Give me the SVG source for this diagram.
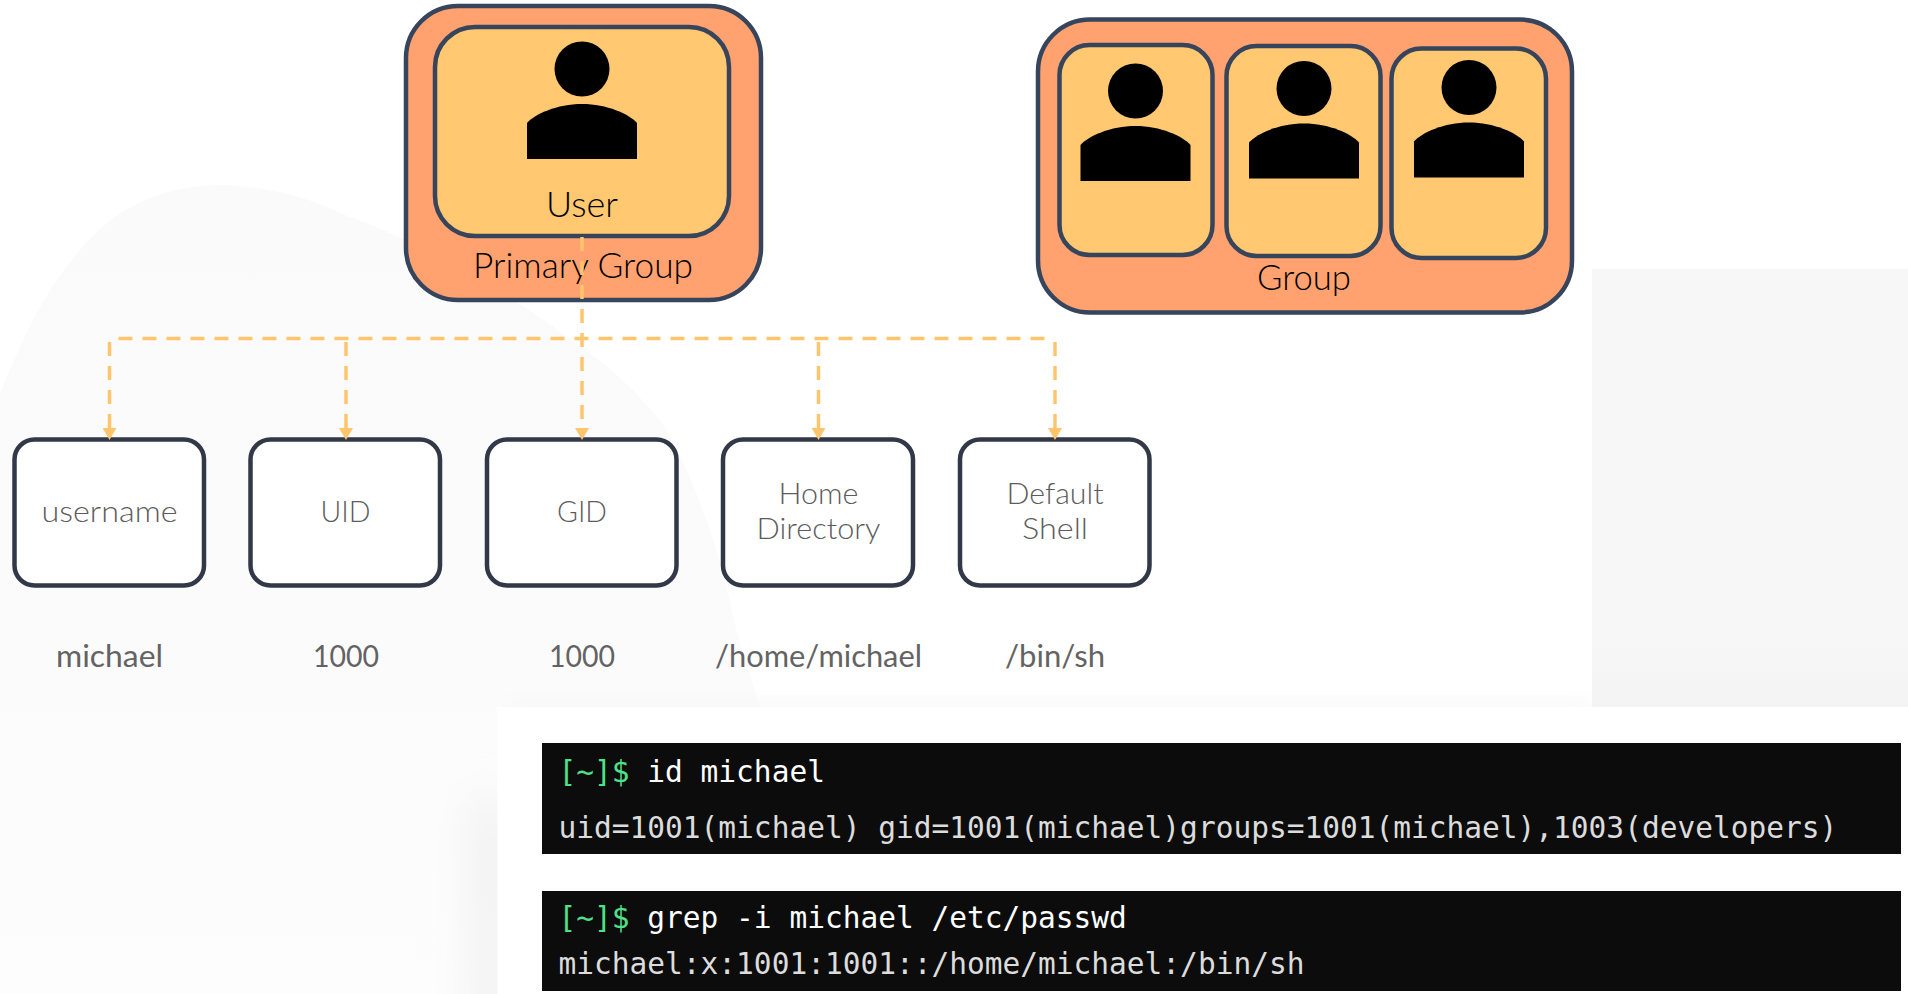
<svg xmlns="http://www.w3.org/2000/svg" xmlns:xlink="http://www.w3.org/1999/xlink" width="1908" height="994" viewBox="0 0 1908 994">
<style>
.outer{fill:#ffa26f;stroke:#36455c;stroke-width:4.5}
.inner{fill:#ffc871;stroke:#36455c;stroke-width:4.5}
.box{fill:#ffffff;stroke:#333849;stroke-width:4.5}
.t{font-family:"Lato","Noto Sans",sans-serif;text-anchor:middle}
.dark{fill:#000000;font-size:36px;font-weight:300}
.lab{fill:#5c5c5c;font-size:30px;font-weight:300}
.val{fill:#636363;font-size:30px;font-weight:400}
.dash{fill:none;stroke:#ffc56d;stroke-width:3.5;stroke-dasharray:14 10}
.term{font-family:"DejaVu Sans Mono","Liberation Mono",monospace;font-size:29.5px}
.cmd{fill:#ffffff}
.out{fill:#dcdcdc}
.prompt{fill:#4fe08a}
</style>
<defs>
<marker id="arrow" markerUnits="userSpaceOnUse" markerWidth="12" markerHeight="14" viewBox="0 0 12 14" refX="0" refY="7" orient="auto">
<path d="M0 0L12 7L0 14Z" fill="#ffc56d"/>
</marker>
<g id="person">
<circle cx="0" cy="0" r="27.5" fill="#000"/>
<path d="M-55 90V54C-47 45-25 35 0 35C25 35 47 45 55 54V90Z" fill="#000"/>
</g>
<filter id="soft" x="-150%" y="-20%" width="400%" height="140%"><feGaussianBlur stdDeviation="20"/></filter>
<filter id="softT" x="-5%" y="-200%" width="110%" height="500%"><feGaussianBlur stdDeviation="9"/></filter>
<linearGradient id="blobFill" x1="0" x2="0" y1="0" y2="1"><stop offset="0" stop-color="#fafafa"/><stop offset="0.55" stop-color="#fbfbfb"/><stop offset="1" stop-color="#fdfdfd"/></linearGradient>
<linearGradient id="rightFill" x1="0" x2="0" y1="0" y2="1"><stop offset="0" stop-color="#f7f7f7"/><stop offset="0.85" stop-color="#f7f7f7"/><stop offset="1" stop-color="#f3f3f3"/></linearGradient>
</defs>

<g id="background">
<rect width="1908" height="994" fill="#ffffff"/>
<path d="M0 393C20 345 40 300 68 265C90 235 115 212 150 198C175 188 200 185 225 185C270 187 310 198 345 215C430 245 510 295 567 337C610 365 640 395 665 427C695 480 720 550 735 625C745 660 755 690 760 707H497V994H0Z" fill="url(#blobFill)"/>
<rect x="1592" y="269" width="316" height="438" fill="url(#rightFill)"/>
<rect x="470" y="800" width="40" height="260" fill="#f1f1f1" filter="url(#soft)"/>
<rect x="510" y="702" width="1082" height="12" fill="#f6f6f6" filter="url(#softT)"/>
<rect x="497.500" y="707" width="1403.500" height="300" rx="10" fill="#ffffff"/>
</g>

<g id="primary-group">
<rect class="outer" x="406" y="6" width="355" height="294" rx="52"/>
<text class="t dark" x="583" y="278" textLength="220" lengthAdjust="spacingAndGlyphs">Primary Group</text>
</g>
<g id="user">
<rect class="inner" x="435" y="27" width="294" height="209" rx="40"/>
<use href="#person" x="582" y="69"/>
<text class="t dark" x="582" y="217" textLength="72" lengthAdjust="spacingAndGlyphs">User</text>
</g>

<g id="group">
<rect class="outer" x="1038" y="19.500" width="534" height="293" rx="52"/>
<text class="t dark" x="1304" y="290" textLength="94" lengthAdjust="spacingAndGlyphs">Group</text>
</g>
<g id="member-1">
<rect class="inner" x="1059.500" y="45" width="153" height="210" rx="30"/>
<use href="#person" x="1135.500" y="91"/>
</g>
<g id="member-2">
<rect class="inner" x="1226.500" y="46" width="154" height="210" rx="30"/>
<use href="#person" x="1304" y="88.500"/>
</g>
<g id="member-3">
<rect class="inner" x="1391.500" y="48.500" width="154.500" height="209.500" rx="30"/>
<use href="#person" x="1469" y="87.500"/>
</g>

<g id="username">
<rect class="box" x="14.500" y="439.500" width="189.500" height="146" rx="20"/>
<text class="t lab" x="109.500" y="522" textLength="136" lengthAdjust="spacingAndGlyphs">username</text>
<text class="t val" x="109.500" y="667" textLength="107" lengthAdjust="spacingAndGlyphs">michael</text>
</g>
<g id="uid">
<rect class="box" x="250.500" y="439.500" width="189.500" height="146" rx="20"/>
<text class="t lab" x="345.500" y="522" textLength="50" lengthAdjust="spacingAndGlyphs">UID</text>
<text class="t val" x="346" y="667" textLength="66" lengthAdjust="spacingAndGlyphs">1000</text>
</g>
<g id="gid">
<rect class="box" x="487" y="439.500" width="189.500" height="146" rx="20"/>
<text class="t lab" x="582" y="522" textLength="50" lengthAdjust="spacingAndGlyphs">GID</text>
<text class="t val" x="582" y="667" textLength="66" lengthAdjust="spacingAndGlyphs">1000</text>
</g>
<g id="home-directory">
<rect class="box" x="723" y="439.500" width="190" height="146" rx="20"/>
<text class="t lab" x="818.500" y="504" textLength="80" lengthAdjust="spacingAndGlyphs">Home</text>
<text class="t lab" x="818.500" y="539" textLength="124" lengthAdjust="spacingAndGlyphs">Directory</text>
<text class="t val" x="818.500" y="667" textLength="207" lengthAdjust="spacingAndGlyphs">/home/michael</text>
</g>
<g id="default-shell">
<rect class="box" x="960" y="439.500" width="189.500" height="146" rx="20"/>
<text class="t lab" x="1055" y="504" textLength="97" lengthAdjust="spacingAndGlyphs">Default</text>
<text class="t lab" x="1055" y="539" textLength="66" lengthAdjust="spacingAndGlyphs">Shell</text>
<text class="t val" x="1055" y="667" textLength="100" lengthAdjust="spacingAndGlyphs">/bin/sh</text>
</g>

<g id="connectors">
<path class="dash" d="M118.500 338.500H1050"/>
<path class="dash" d="M582 237V428" marker-end="url(#arrow)"/>
<path class="dash" d="M109.500 342V428" marker-end="url(#arrow)"/>
<path class="dash" d="M346 342V428" marker-end="url(#arrow)"/>
<path class="dash" d="M818.500 342V428" marker-end="url(#arrow)"/>
<path class="dash" d="M1055 342V428" marker-end="url(#arrow)"/>
</g>

<g id="terminal-1">
<rect x="542" y="743" width="1359" height="111" fill="#0c0c0c"/>
<text class="term" x="558.500" y="782"><tspan class="prompt">[~]$</tspan><tspan class="cmd"> id michael</tspan></text>
<text class="term out" x="558.500" y="838">uid=1001(michael) gid=1001(michael)groups=1001(michael),1003(developers)</text>
</g>
<g id="terminal-2">
<rect x="542" y="891" width="1359" height="100" fill="#0c0c0c"/>
<text class="term" x="558.500" y="928"><tspan class="prompt">[~]$</tspan><tspan class="cmd"> grep -i michael /etc/passwd</tspan></text>
<text class="term out" x="558.500" y="974">michael:x:1001:1001::/home/michael:/bin/sh</text>
</g>
</svg>
